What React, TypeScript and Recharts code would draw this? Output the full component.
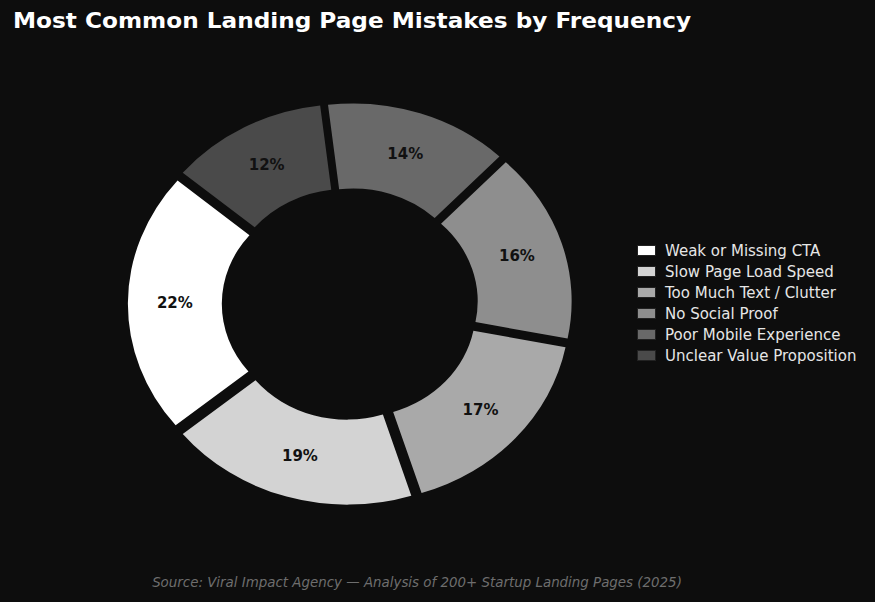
import React from 'react';
import { PieChart, Pie, Cell, Sector, Legend } from 'recharts';

const categories = [
  'Weak or Missing CTA',
  'Slow Page Load Speed',
  'Too Much Text / Clutter',
  'No Social Proof',
  'Poor Mobile Experience',
  'Unclear Value Proposition',
];
const values = [22, 19, 17, 16, 14, 12];
const colors = ['#ffffff', '#d3d3d3', '#a9a9a9', '#8e8e8e', '#696969', '#4a4a4a'];

const TITLE = 'Most Common Landing Page Mistakes by Frequency';
const SOURCE = 'Source: Viral Impact Agency \u2014 Analysis of 200+ Startup Landing Pages (2025)';

const BG = '#0d0d0d';
const SX = 1.105;
const EXPLODE = 9;
const RAD = Math.PI / 180;

const data = categories.map((name, i) => ({ name, value: values[i] }));

const ExplodedSector = (props: any) => {
  const { cx, cy, midAngle } = props;
  const dx = EXPLODE * Math.cos(-midAngle * RAD);
  const dy = EXPLODE * Math.sin(-midAngle * RAD);
  return (
    <g transform={`translate(${cx} ${cy}) scale(${SX} 1) translate(${-cx} ${-cy})`}>
      <Sector {...props} cx={cx + dx} cy={cy + dy} stroke="none" />
    </g>
  );
};

const renderLabel = (props: any) => {
  const { cx, cy, midAngle, innerRadius, outerRadius, value } = props;
  const r = (innerRadius + outerRadius) / 2 + EXPLODE;
  const x = cx + r * Math.cos(-midAngle * RAD) * SX;
  const y = cy + r * Math.sin(-midAngle * RAD);
  return (
    <text
      x={x}
      y={y}
      fill="#111111"
      textAnchor="middle"
      dominantBaseline="central"
      fontFamily="DejaVu Sans"
      fontWeight="bold"
      fontSize={15}
    >
      {`${value}%`}
    </text>
  );
};

const LegendContent = () => (
  <div style={{ fontFamily: 'DejaVu Sans', fontSize: 15, color: '#e6e6e6' }}>
    {categories.map((c, i) => (
      <div key={c} style={{ display: 'flex', alignItems: 'center', height: 21 }}>
        <span
          style={{
            display: 'inline-block',
            width: 17,
            height: 9,
            background: colors[i],
            border: '1px solid #222',
            marginRight: 9,
          }}
        />
        <span style={{ whiteSpace: 'nowrap' }}>{c}</span>
      </div>
    ))}
  </div>
);

export default function App() {
  return (
    <div style={{ position: 'absolute', left: 0, top: 0, width: 875, height: 602, background: BG }}>
      <PieChart
        width={875}
        height={602}
        margin={{ top: 0, right: 0, bottom: 0, left: 0 }}
        style={{ background: BG }}
      >
        <g transform={`translate(13 28) scale(${SX} 1)`}>
          <text x={0} y={0} fill="#ffffff" fontFamily="DejaVu Sans" fontWeight="bold" fontSize={21}>
            {TITLE}
          </text>
        </g>
        <Pie
          data={data}
          dataKey="value"
          nameKey="name"
          cx={350}
          cy={304}
          innerRadius={107}
          outerRadius={192}
          startAngle={140}
          endAngle={500}
          stroke="none"
          shape={ExplodedSector}
          label={renderLabel}
          labelLine={false}
          isAnimationActive={false}
        >
          {data.map((d, i) => (
            <Cell key={d.name} fill={colors[i]} />
          ))}
        </Pie>
        <Legend
          content={<LegendContent />}
          wrapperStyle={{ position: 'absolute', left: 637, top: 240, width: 230 }}
        />
        <text
          x={417}
          y={587}
          fill="#6e6e6e"
          textAnchor="middle"
          fontFamily="DejaVu Sans"
          fontStyle="italic"
          fontSize={13.4}
        >
          {SOURCE}
        </text>
      </PieChart>
    </div>
  );
}
